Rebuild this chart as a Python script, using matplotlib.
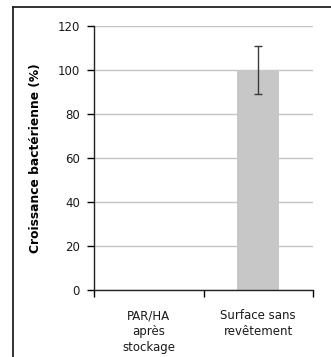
import numpy as np
import matplotlib.pyplot as plt
from matplotlib.lines import Line2D

# données
categories = ["PAR/HA\naprès\nstockage", "Surface sans\nrevêtement"]
valeurs = [0, 100]
erreurs = [0, 11]
yticks = [0, 20, 40, 60, 80, 100, 120]

plt.rcParams['font.family'] = ['DejaVu Sans']

W, H = 331, 357
fig = plt.figure(figsize=(W / 100, H / 100), dpi=100)
ax = fig.add_axes([94 / W, 1 - 290 / H, (313 - 94) / W, (290 - 26) / H])

x = np.arange(len(categories))
err = [e if e > 0 else np.nan for e in erreurs]
ax.bar(x, valeurs, width=0.38, color='#c6c7c6', zorder=2)
ax.errorbar(x, valeurs, yerr=err, fmt='none', ecolor='#3a3a3a',
            elinewidth=1, capsize=3, capthick=1, zorder=3)

ax.set_xlim(-0.5, len(categories) - 0.5)
ax.set_ylim(0, 120)
ax.set_yticks(yticks)
ax.yaxis.grid(True, color='#c4c4c4', linewidth=1, zorder=0)
ax.set_axisbelow(True)

# graduations aux limites des catégories, étiquettes au centre
ax.set_xticks(np.arange(-0.5, len(categories), 1.0))
ax.set_xticklabels([])
ax.set_xticks(x, minor=True)
ax.set_xticklabels(categories, minor=True, fontsize=8.5, linespacing=1.3, color='#1a1a1a')
ax.tick_params(axis='x', which='major', length=5, width=1, direction='out')
ax.tick_params(axis='x', which='minor', length=0, pad=14)
ax.tick_params(axis='y', length=5, width=1, pad=5, labelsize=8.5, labelcolor='#1a1a1a')

for s in ['top', 'right']:
    ax.spines[s].set_visible(False)
for s in ['left', 'bottom']:
    ax.spines[s].set_linewidth(1)
    ax.spines[s].set_color('#222222')

ax.set_ylabel("Croissance bactérienne (%)", fontsize=8.8, fontweight='bold', labelpad=11)

# cadre extérieur (gauche et haut)
fig.add_artist(Line2D([12.5 / W, 12.5 / W], [0, 1 - 7 / H], color='#222222', lw=1.3))
fig.add_artist(Line2D([12.5 / W, 1], [1 - 7 / H, 1 - 7 / H], color='#222222', lw=1.3))

fig.savefig('out.png', dpi=100)
